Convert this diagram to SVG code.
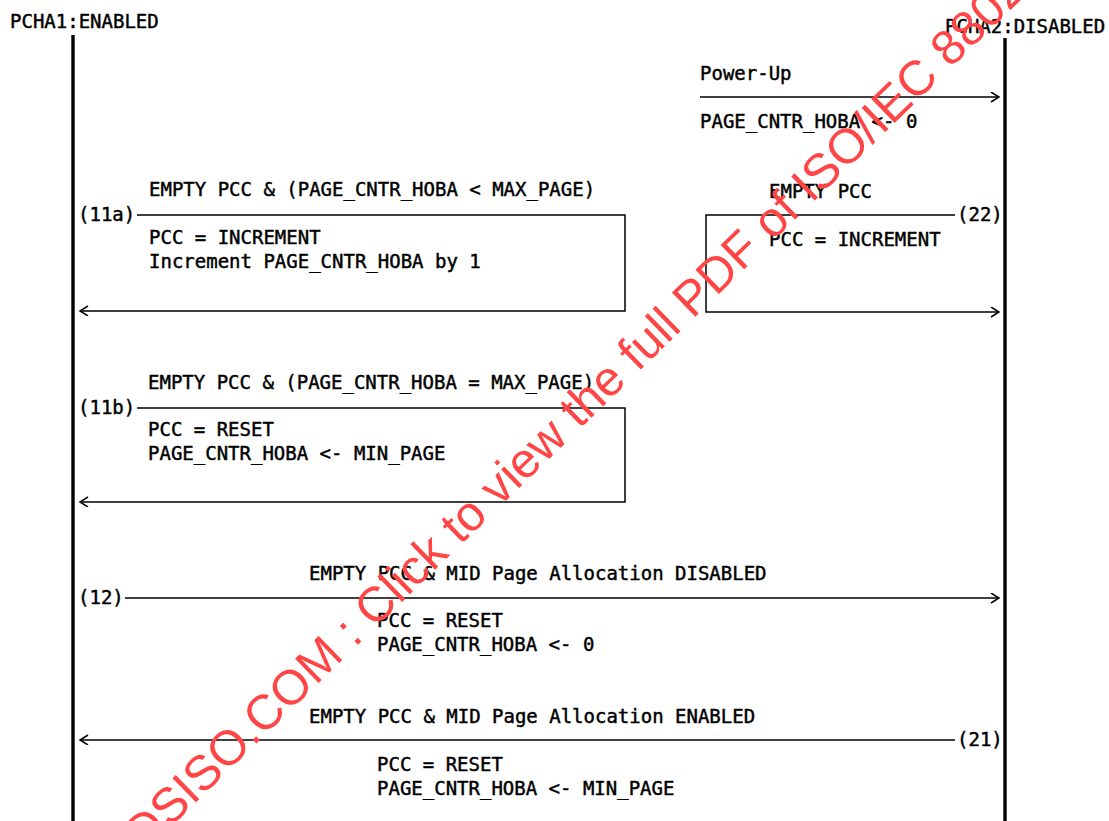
<svg xmlns="http://www.w3.org/2000/svg" width="1109" height="821" viewBox="0 0 1109 821">
<style>
  .t { font-family: "DejaVu Sans Mono", "Liberation Mono", monospace; font-size: 19px; fill: #000; stroke: #000; stroke-width: 0.45; }
  .life { stroke: #000; stroke-width: 3.4; fill: none; }
  .msg { stroke: #000; stroke-width: 1.5; fill: none; }
  .wm { font-family: "Liberation Sans", Arial, sans-serif; font-size: 49px; fill: #ff4545; }
</style>
<defs>
  <marker id="arr" markerUnits="userSpaceOnUse" markerWidth="12" markerHeight="12" refX="9" refY="5" orient="auto">
    <path d="M1,0 L9,5 L1,10" fill="none" stroke="#000" stroke-width="1.5"/>
  </marker>
</defs>
<rect width="1109" height="821" fill="#fff"/>

<g id="pcha1">
  <text class="t" x="10" y="28">PCHA1:ENABLED</text>
  <line class="life" x1="73" y1="35" x2="73" y2="821"/>
</g>
<g id="pcha2">
  <text class="t" x="945" y="33">PCHA2:DISABLED</text>
  <line class="life" x1="1005" y1="38" x2="1005" y2="821"/>
</g>

<g id="connectors">
  <path class="msg" d="M700,97 H999" marker-end="url(#arr)"/>
  <path class="msg" d="M137,215 H625 V311 H80" marker-end="url(#arr)"/>
  <path class="msg" d="M955,215 H706 V312 H999" marker-end="url(#arr)"/>
  <path class="msg" d="M137,408 H625 V502 H80" marker-end="url(#arr)"/>
  <path class="msg" d="M125,598 H999" marker-end="url(#arr)"/>
  <path class="msg" d="M955,740 H80" marker-end="url(#arr)"/>
</g>

<g id="powerup">
  <text class="t" x="700" y="80">Power-Up</text>
  <text class="t" x="700" y="128">PAGE_CNTR_HOBA &lt;- 0</text>
</g>

<g id="t11a">
  <text class="t" x="149" y="196">EMPTY PCC &amp; (PAGE_CNTR_HOBA &lt; MAX_PAGE)</text>
  <text class="t" x="78" y="221">(11a)</text>
  <text class="t" x="149" y="244">PCC = INCREMENT</text>
  <text class="t" x="149" y="268">Increment PAGE_CNTR_HOBA by 1</text>
</g>

<g id="t22">
  <text class="t" x="769" y="198">EMPTY PCC</text>
  <text class="t" x="957" y="221">(22)</text>
  <text class="t" x="769" y="246">PCC = INCREMENT</text>
</g>

<g id="t11b">
  <text class="t" x="148" y="389">EMPTY PCC &amp; (PAGE_CNTR_HOBA = MAX_PAGE)</text>
  <text class="t" x="78" y="414">(11b)</text>
  <text class="t" x="148" y="436">PCC = RESET</text>
  <text class="t" x="148" y="460">PAGE_CNTR_HOBA &lt;- MIN_PAGE</text>
</g>

<g id="t12">
  <text class="t" x="309" y="580">EMPTY PCC &amp; MID Page Allocation DISABLED</text>
  <text class="t" x="78" y="604">(12)</text>
  <text class="t" x="377" y="627">PCC = RESET</text>
  <text class="t" x="377" y="651">PAGE_CNTR_HOBA &lt;- 0</text>
</g>

<g id="t21">
  <text class="t" x="309" y="723">EMPTY PCC &amp; MID Page Allocation ENABLED</text>
  <text class="t" x="957" y="746">(21)</text>
  <text class="t" x="377" y="771">PCC = RESET</text>
  <text class="t" x="377" y="795">PAGE_CNTR_HOBA &lt;- MIN_PAGE</text>
</g>

<g id="watermark">
  <text class="wm" x="-159" y="0" transform="translate(258,742) rotate(-44.2)">DSISO.COM : Click to view the full PDF of ISO/IEC 8802</text>
</g>
</svg>
